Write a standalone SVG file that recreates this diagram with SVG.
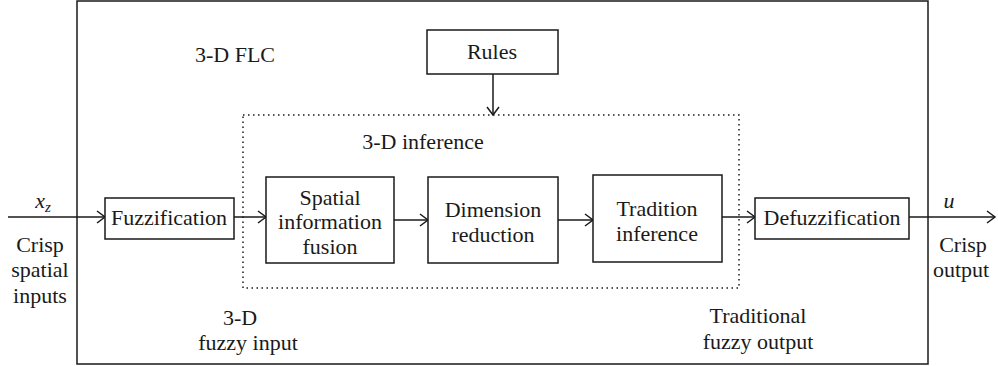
<svg xmlns="http://www.w3.org/2000/svg" width="998" height="366" viewBox="0 0 998 366">
<style>
text{font-family:"Liberation Serif",serif;font-size:22px;fill:#1a1a1a;text-anchor:middle}
.box{fill:#fff;stroke:#1a1a1a;stroke-width:1.5}
.ln{stroke:#1a1a1a;stroke-width:1.5;fill:none;marker-end:url(#arr)}
.it{font-style:italic}
</style>
<defs>
<marker id="arr" markerWidth="12" markerHeight="14" refX="10" refY="7" orient="auto" markerUnits="userSpaceOnUse">
<polyline points="2,1 10,7 2,13" fill="none" stroke="#1a1a1a" stroke-width="1.5"/>
</marker>
</defs>
<rect width="998" height="366" fill="#fff"/>
<g id="flc"><rect x="77" y="1" width="851" height="363" fill="none" stroke="#1a1a1a" stroke-width="1.5"/><text x="235" y="62">3-D FLC</text></g>
<g id="inference3d"><rect x="243" y="115" width="496" height="173" fill="none" stroke="#1a1a1a" stroke-width="1.5" stroke-dasharray="1.5 3.5"/><text x="423" y="149">3-D inference</text></g>
<g id="connectors">
<line class="ln" x1="8" y1="217" x2="105" y2="217"/>
<line class="ln" x1="234" y1="217" x2="266" y2="217"/>
<line class="ln" x1="394" y1="220" x2="428" y2="220"/>
<line class="ln" x1="558" y1="220" x2="593" y2="220"/>
<line class="ln" x1="722" y1="217" x2="755" y2="217"/>
<line class="ln" x1="909" y1="217" x2="995" y2="217"/>
<line class="ln" x1="493" y1="74" x2="493" y2="115"/>
</g>
<g id="rules"><rect class="box" x="427" y="30" width="131" height="44"/><text x="492" y="59">Rules</text></g>
<g id="fuzzification"><rect class="box" x="105" y="198" width="129" height="41"/><text x="169" y="225">Fuzzification</text></g>
<g id="spatial"><rect class="box" x="266" y="177" width="128" height="86"/><text x="330" y="205">Spatial</text><text x="330" y="229">information</text><text x="330" y="254">fusion</text></g>
<g id="dimension"><rect class="box" x="428" y="177" width="130" height="86"/><text x="493" y="217">Dimension</text><text x="493" y="242">reduction</text></g>
<g id="tradition"><rect class="box" x="593" y="175" width="129" height="87"/><text x="657" y="216">Tradition</text><text x="657" y="241">inference</text></g>
<g id="defuzzification"><rect class="box" x="755" y="198" width="154" height="41"/><text x="832" y="225">Defuzzification</text></g>
<g id="labels">
<text class="it" x="43" y="208">x<tspan font-size="15" dy="4">z</tspan></text>
<text x="40" y="252">Crisp</text>
<text x="40" y="277">spatial</text>
<text x="40" y="303">inputs</text>
<text class="it" x="949" y="208">u</text>
<text x="963" y="252">Crisp</text>
<text x="961" y="277">output</text>
<text x="240" y="325">3-D</text>
<text x="248" y="350">fuzzy input</text>
<text x="758" y="323">Traditional</text>
<text x="758" y="349">fuzzy output</text>
</g>
</svg>
